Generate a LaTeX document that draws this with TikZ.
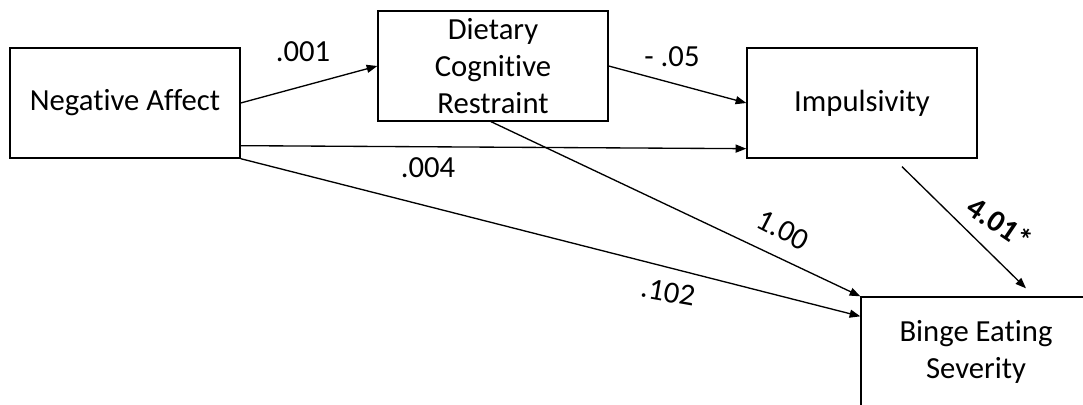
\documentclass[tikz,border=0pt]{standalone}
\usepackage{fontspec}
\setmainfont{Carlito}[Ligatures=NoCommon]
\usetikzlibrary{arrows.meta,calc}

\tikzset{
    varbox/.style={draw, line width=1pt, minimum width=172.5pt, minimum height=82.5pt,
        align=center, font=\fontsize{23}{27.75}\selectfont, inner sep=0pt},
    pathto/.style={line width=1pt, -{Triangle[length=8pt,width=6pt]}},
    coef/.style={font=\fontsize{23}{26}\selectfont, inner sep=0pt}
}

\begin{document}
\begin{tikzpicture}[x=0.75pt, y=0.75pt]
    \useasboundingbox (0,0) rectangle (1083,404);
    \begin{scope}
    \clip (0,0) rectangle (1083,404);

    \node[varbox] (na) at (125,301) {Negative Affect};
    \node[varbox] (dcr) at (493,338) {Dietary\\Cognitive\\Restraint};
    \node[varbox] (imp) at (862,301) {Impulsivity};
    \node[varbox] (bes) at (976,52) {Binge Eating\\Severity};

    \draw[pathto] (na.east) -- (dcr.west);
    \draw[pathto] (dcr.east) -- (imp.west);
    \draw[pathto] ($(na.south east)+(0,13)$) -- ($(imp.south west)+(0,10)$);
    \draw[pathto] (na.south east) -- ($(bes.north west)+(0,-20)$);
    \draw[pathto] ($(dcr.south)+(-2,0)$) -- (bes.north west);
    \draw[pathto] ($(imp.south)+(40,-8)$) -- ($(bes.north)+(50,8)$);

    \node[coef] (c1) at (303,352) {.001};
    \node[coef] (c2) at (672,347) {- .05};
    \node[coef] (c3) at (428,236) {.004};
    \node[coef, rotate=-27] (c4) at (783,174) {1.00};
    \node[coef, rotate=-10] (c5) at (668,112) {.102};
    \node[coef, rotate=-34, font=\fontsize{23}{26}\selectfont\bfseries] (c6) at (1000,181) {4.01*};
    \end{scope}
\end{tikzpicture}
\end{document}
